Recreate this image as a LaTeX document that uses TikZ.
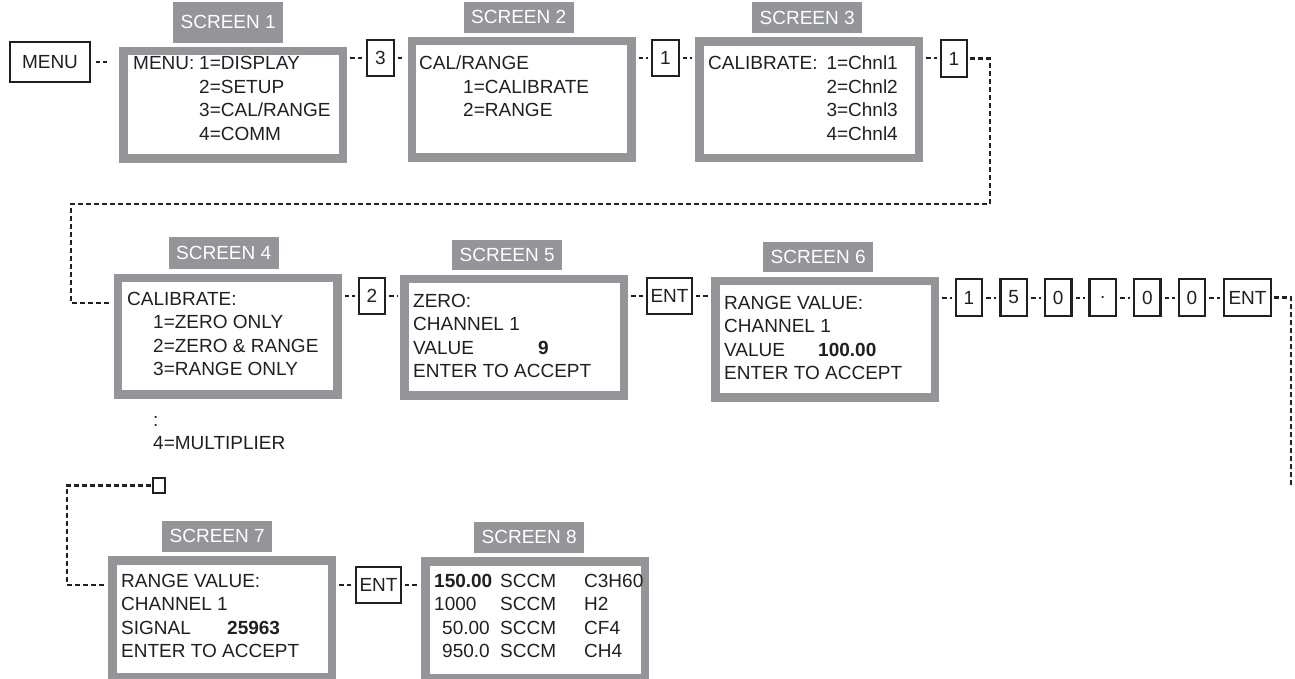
\documentclass[tikz,border=0pt]{standalone}
\usepackage{fontspec}
\setmainfont{Liberation Sans}
\usepackage{tikz}
\usetikzlibrary{calc}
\definecolor{scrgray}{RGB}{147,149,152}
\definecolor{inkblack}{RGB}{35,31,32}

\begin{document}
\begin{tikzpicture}[x=1pt,y=-1pt,
  every node/.style={font=\fontsize{19}{23.5}\selectfont,inner sep=0pt,text=inkblack},
  screen/.style={draw=scrgray,line width=8.5pt,fill=white,minimum width=219.5pt,minimum height=116.5pt},
  scrtab/.style={fill=scrgray,text=white,minimum width=110pt,minimum height=31pt,anchor=south west},
  btn/.style={draw=inkblack,line width=2.4pt,fill=white,minimum width=26.5pt,minimum height=36.5pt},
  txt/.style={anchor=base west},
  dd/.style={draw=inkblack,line width=2pt,dash pattern=on 4.5pt off 3pt,shorten <=3pt,shorten >=3pt},
  ld/.style={draw=inkblack,line width=2.2pt,dash pattern=on 5pt off 3pt}]
\path[use as bounding box,fill=white] (0,0) rectangle (1295,679);

% screens
\node[screen,minimum height=107.5pt] (s1) at (233,105) {};
\node[screen] (s2) at (521.5,99.5) {};
\node[screen] (s3) at (809,100) {};
\node[screen] (s4) at (227.5,336) {};
\node[screen] (s5) at (514,337) {};
\node[screen] (s6) at (825,339) {};
\node[screen] (s7) at (222,618.5) {};
\node[screen] (s8) at (535,619.5) {};
\foreach \n/\dx/\h in {1/54/41,2/56/31,3/57/31,4/55/32,5/52/30,6/52/30,7/54/31,8/53/31}
  \node[scrtab,minimum height=\h pt] (t\n) at ([shift={(\dx,-4)}]s\n.north west) {SCREEN \n};

% screen texts
\node[txt] (s1a) at (133,69.7) {MENU:};
\foreach \s [count=\i from 0] in {1=DISPLAY,2=SETUP,3=CAL/RANGE,4=COMM}
  \node[txt] (s1b\i) at (199,69.7+23.5*\i) {\s};
\node[txt] (s2a) at (419,69.7) {CAL/RANGE};
\node[txt] (s2b) at (463,93.2) {1=CALIBRATE};
\node[txt] (s2c) at (463,116.7) {2=RANGE};
\node[txt] (s3a) at (708,69.7) {CALIBRATE:};
\foreach \s [count=\i from 0] in {1=Chnl1,2=Chnl2,3=Chnl3,4=Chnl4}
  \node[anchor=base east] (s3b\i) at (898,69.7+23.5*\i) {\s};
\node[txt] (s4a) at (127,305) {CALIBRATE:};
\foreach \s [count=\i from 1] in {1=ZERO ONLY,2=ZERO \& RANGE,3=RANGE ONLY}
  \node[txt] (s4b\i) at (153,305+23.5*\i) {\s};
\node[txt] (s4c) at (153,426) {:};
\node[txt] (s4d) at (153,449) {4=MULTIPLIER};
\node[txt] (s5a) at (413,307) {ZERO:};
\node[txt] (s5b) at (413,330.5) {CHANNEL 1};
\node[txt] (s5c) at (413,354) {VALUE};
\node[txt,font=\fontsize{19}{23.5}\selectfont\bfseries] (s5v) at (538,354) {9};
\node[txt] (s5d) at (413,377.5) {ENTER TO ACCEPT};
\node[txt] (s6a) at (724,309) {RANGE VALUE:};
\node[txt] (s6b) at (724,332.5) {CHANNEL 1};
\node[txt] (s6c) at (724,356) {VALUE};
\node[txt,font=\fontsize{19}{23.5}\selectfont\bfseries] (s6v) at (818,356) {100.00};
\node[txt] (s6d) at (724,379.5) {ENTER TO ACCEPT};
\node[txt] (s7a) at (121,587) {RANGE VALUE:};
\node[txt] (s7b) at (121,610.5) {CHANNEL 1};
\node[txt] (s7c) at (121,634) {SIGNAL};
\node[txt,font=\fontsize{19}{23.5}\selectfont\bfseries] (s7v) at (227,634) {25963};
\node[txt] (s7d) at (121,657.5) {ENTER TO ACCEPT};
\node[txt,font=\fontsize{19}{23.5}\selectfont\bfseries] (s8n1) at (434,587) {150.00};
\node[txt] (s8n2) at (434,610.5) {1000};
\node[txt] (s8n3) at (442,634) {50.00};
\node[txt] (s8n4) at (442,657.5) {950.0};
\foreach \g [count=\i from 0] in {C3H60,H2,CF4,CH4}{
  \node[txt] (s8u\i) at (500,587+23.5*\i) {SCCM};
  \node[txt] (s8g\i) at (584,587+23.5*\i) {\g};
}

% keys
\node[btn,minimum width=79.5pt,minimum height=39.5pt] (menu) at (50,62) {MENU};
\node[btn] (k3) at (380.5,58) {3};
\node[btn] (k1a) at (665.5,58) {1};
\node[btn] (k1b) at (954,58.5) {1};
\node[btn] (k2) at (372,296) {2};
\node[btn,minimum width=44.5pt] (ent1) at (669.5,296) {ENT};
\foreach \d [count=\i] in {1,5,0,.,0,0}
  \node[btn] (d\i) at (969+44.6*\i-44.6,297.5) {\d};
\node[btn,minimum width=46.5pt] (ent2) at (1247.5,297.5) {ENT};
\node[btn,minimum width=11.5pt,minimum height=14.5pt] (kb) at (159,485.5) {};
\node[btn,minimum width=44.5pt] (ent3) at (378.5,585) {ENT};

% short links
\draw[dd,shorten <=5pt,shorten >=12pt] (menu.east) -- (menu.east -| s1.west);
\draw[dd] (k3.west -| s1.east) -- (k3.west);
\draw[dd] (k3.east) -- (k3.east -| s2.west);
\draw[dd] (k1a.west -| s2.east) -- (k1a.west);
\draw[dd] (k1a.east) -- (k1a.east -| s3.west);
\draw[dd] (k1b.west -| s3.east) -- (k1b.west);
\draw[dd] (k2.west -| s4.east) -- (k2.west);
\draw[dd] (k2.east) -- (k2.east -| s5.west);
\draw[dd] (ent1.west -| s5.east) -- (ent1.west);
\draw[dd] (ent1.east) -- (ent1.east -| s6.west);
\draw[dd] (d1.west -| s6.east) -- (d1.west);
\foreach \i/\j in {1/2,2/3,3/4,4/5,5/6}
  \draw[dd] (d\i.east) -- (d\j.west);
\draw[dd] (d6.east) -- (ent2.west);
\draw[dd] (ent3.west -| s7.east) -- (ent3.west);
\draw[dd] (ent3.east) -- (ent3.east -| s8.west);

% long links
\coordinate (c1) at (990,204);
\coordinate (c2) at (71,204);
\coordinate (c3) at (1291,487);
\coordinate (c4) at (67,585);
\draw[ld,shorten <=2pt,shorten >=4pt] (k1b.east) -| (c1) -- (c2) |- ([yshift=33pt]s4.west);
\draw[ld,shorten <=2pt] (ent2.east) -| (c3);
\draw[ld,shorten <=1pt,shorten >=4pt] (kb.west) -| (c4) -- (c4 -| s7.west);
\end{tikzpicture}
\end{document}
